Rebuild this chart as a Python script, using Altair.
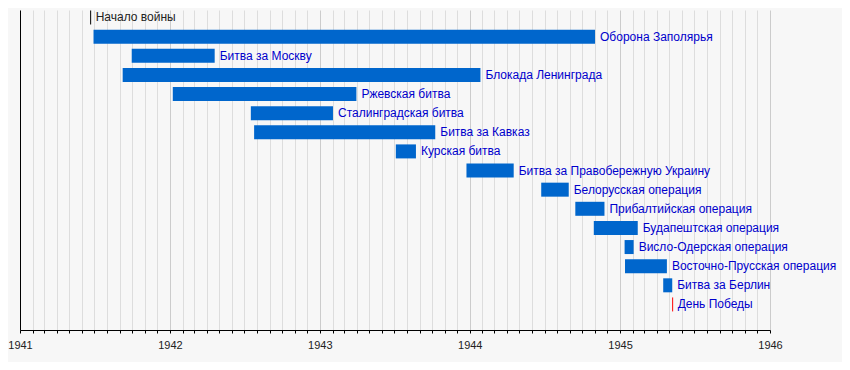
import altair as alt
import pandas as pd

# Battles (bars)
battles = [
    "Оборона Заполярья",
    "Битва за Москву",
    "Блокада Ленинграда",
    "Ржевская битва",
    "Сталинградская битва",
    "Битва за Кавказ",
    "Курская битва",
    "Битва за Правобережную Украину",
    "Белорусская операция",
    "Прибалтийская операция",
    "Будапештская операция",
    "Висло-Одерская операция",
    "Восточно-Прусская операция",
    "Битва за Берлин",
]
starts = [
    "1941-06-29", "1941-09-30", "1941-09-08", "1942-01-08", "1942-07-17",
    "1942-07-25", "1943-07-05", "1943-12-24", "1944-06-23", "1944-09-14",
    "1944-10-29", "1945-01-12", "1945-01-13", "1945-04-16",
]
ends = [
    "1944-11-01", "1942-04-20", "1944-01-27", "1943-03-31", "1943-02-02",
    "1943-10-09", "1943-08-23", "1944-04-17", "1944-08-29", "1944-11-24",
    "1945-02-13", "1945-02-03", "1945-04-25", "1945-05-08",
]

# Single-date markers
events = ["Начало войны", "День Победы"]
event_dates = ["1941-06-22", "1945-05-09"]
event_rows = [0, 15]
event_line_colors = ["#000000", "#ff0000"]
event_text_colors = ["#222222", "#0000cc"]

HALF = 7 / 19.13

bars_df = pd.DataFrame({
    "label": battles,
    "start": [s + "T00:00:00" for s in starts],
    "end": [e + "T00:00:00" for e in ends],
    "row": list(range(1, len(battles) + 1)),
})
ev_df = pd.DataFrame({
    "label": events,
    "date": [d + "T00:00:00" for d in event_dates],
    "row": event_rows,
    "lc": event_line_colors,
    "tc": event_text_colors,
})

xscale = alt.Scale(
    domain=[alt.DateTime(year=1941, month=1, date=1), alt.DateTime(year=1946, month=1, date=1)],
    nice=False,
)
yscale = alt.Scale(domain=[-0.392, 16.336], reverse=True, nice=False, zero=False)

xaxis = alt.Axis(
    title=None,
    orient="bottom",
    tickCount={"interval": "month", "step": 1},
    labelExpr="month(datum.value) == 0 ? timeFormat(datum.value, '%Y') : ''",
    labelFont="Liberation Sans",
    labelFontSize=11,
    labelColor="#222222",
    labelPadding=6,
    labelFlush=False,
    labelOverlap=False,
    grid=True,
    gridColor={"condition": {"test": "month(datum.value) == 0", "value": "#cccccc"}, "value": "#dddddd"},
    gridWidth=1,
    domainColor="#000000",
    domainWidth=1,
    tickColor="#000000",
    tickSize=3,
    tickWidth=1,
)
yaxis = alt.Axis(
    title=None, labels=False, ticks=False, grid=False,
    domainColor="#000000", domainWidth=1,
)

base_bars = alt.Chart(bars_df).transform_calculate(
    y0=f"datum.row - {HALF}", y1=f"datum.row + {HALF}"
)

bars = base_bars.mark_rect(color="#0066cc").encode(
    x=alt.X("start:T", scale=xscale, axis=xaxis),
    x2="end:T",
    y=alt.Y("y0:Q", scale=yscale, axis=yaxis),
    y2="y1:Q",
)

bar_text = alt.Chart(bars_df).mark_text(
    align="left", baseline="middle", dx=5, font="Liberation Sans", fontSize=12, color="#0000cc"
).encode(
    x=alt.X("end:T", scale=xscale),
    y=alt.Y("row:Q", scale=yscale),
    text="label:N",
)

ev_base = alt.Chart(ev_df).transform_calculate(
    y0=f"datum.row - {HALF}", y1=f"datum.row + {HALF}"
)
ev_rules = ev_base.mark_rule(strokeWidth=1).encode(
    x=alt.X("date:T", scale=xscale),
    y=alt.Y("y0:Q", scale=yscale),
    y2="y1:Q",
    color=alt.Color("lc:N", scale=None),
)
ev_text = alt.Chart(ev_df).mark_text(
    align="left", baseline="middle", dx=5, font="Liberation Sans", fontSize=12
).encode(
    x=alt.X("date:T", scale=xscale),
    y=alt.Y("row:Q", scale=yscale),
    text="label:N",
    color=alt.Color("tc:N", scale=None),
)

chart = alt.layer(bars, bar_text, ev_rules, ev_text).properties(
    width=750,
    height=320,
    autosize=alt.AutoSizeParams(type="none"),
    padding={"left": 12, "top": 2, "right": 72, "bottom": 32},
    background="#f7f7f7",
).configure_view(stroke=None)

chart.save("out.html", embed_options={"renderer": "svg", "actions": False})
